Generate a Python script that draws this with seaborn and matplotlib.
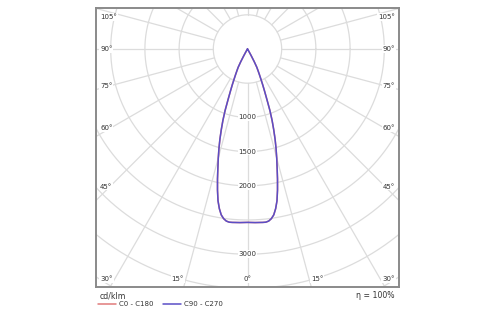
import numpy as np
import pandas as pd
import matplotlib
matplotlib.use("Agg")
import matplotlib.pyplot as plt
import seaborn as sns

# Luminous intensity distribution (cd/klm) against angle from nadir, symmetric
gamma_deg = [0, 2.5, 5, 6, 7, 8, 9, 10, 11, 12, 13, 14, 15, 16, 17, 18, 19, 20,
             21, 22, 23, 24, 25, 26, 27, 28, 29, 30, 32, 35, 40, 50, 90, 180]
intensity_c0_c180 = [2535, 2540, 2545, 2546, 2535, 2505, 2455, 2370, 2260, 2110,
                     1950, 1790, 1650, 1515, 1380, 1240, 1105, 960, 795, 670,
                     570, 480, 410, 350, 300, 210, 110, 45, 15, 6, 2, 0, 0, 0]
intensity_c90_c270 = [2535, 2540, 2545, 2546, 2535, 2505, 2455, 2370, 2260, 2110,
                      1950, 1790, 1650, 1515, 1380, 1240, 1105, 960, 795, 670,
                      570, 480, 410, 350, 300, 210, 110, 45, 15, 6, 2, 0, 0, 0]
curve_names = ["C0 - C180", "C90 - C270"]
curve_colors = ["#e07a7a", "#5a4ec6"]

ring_values = [500, 1000, 1500, 2000, 2500, 3000, 3500, 4000, 4500, 5000]
ring_labels = [1000, 1500, 2000, 3000]
spoke_angles = list(range(0, 360, 15))
angle_ticks = [0, 15, 30, 45, 60, 75, 90, 105]
unit_text = "cd/klm"
efficiency_text = "η = 100%"

sns.set_style("white")
plt.rcParams["font.family"] = ["DejaVu Sans"]

W, H = 500, 325
fig = plt.figure(figsize=(W / 100, H / 100), dpi=100)

# drawing box in pixels and the pole position
box_l, box_r, box_t, box_b = 96, 399, 7.5, 287
cx, cy = 247.5, 49
S = 500 / 34.2  # cd/klm per pixel

ax = fig.add_axes([box_l / W, (H - box_b) / H, (box_r - box_l) / W, (box_b - box_t) / H])
ax.set_xlim((box_l - cx) * S, (box_r - cx) * S)
ax.set_ylim(-(box_b - cy) * S, -(box_t - cy) * S)


def px_x(p):
    return (p - cx) * S


def px_y(p):
    return -(p - cy) * S


grid_kw = dict(color="#dcdcdc", lw=0.9, zorder=1)
t = np.linspace(0, 2 * np.pi, 400)
for r in ring_values:
    ax.plot(r * np.cos(t), r * np.sin(t), **grid_kw)
for a in spoke_angles:
    ar = np.radians(a)
    ax.plot([500 * np.sin(ar), 8000 * np.sin(ar)],
            [-500 * np.cos(ar), -8000 * np.cos(ar)], **grid_kw)


def polar_frame(intensity, name):
    g = np.radians(np.array(gamma_deg, dtype=float))
    i = np.array(intensity, dtype=float)
    g_full = np.concatenate([-g[::-1], g[1:]])
    i_full = np.concatenate([i[::-1], i[1:]])
    return pd.DataFrame({"x": i_full * np.sin(g_full),
                         "y": -i_full * np.cos(g_full),
                         "curve": name})


for inten, name, col in zip([intensity_c0_c180, intensity_c90_c270], curve_names, curve_colors):
    sns.lineplot(data=polar_frame(inten, name), x="x", y="y", sort=False,
                 estimator=None, color=col, lw=1.1, label=name, ax=ax, zorder=3)

txt_kw = dict(fontsize=5, color="#333333", zorder=4,
              bbox=dict(facecolor="white", edgecolor="none", pad=0.6))

for r in ring_labels:
    ax.text(0, -r, f"{r}", ha="center", va="center", **txt_kw)

# angle labels along the frame
side_x = 110
bottom_y = 279
for a in angle_ticks:
    ar = np.radians(a)
    if a <= 30:
        dy = bottom_y - cy
        dx = dy * np.tan(ar)
        if a == 0:
            ax.text(px_x(cx), px_y(bottom_y), f"{a}°", ha="center", va="center", **txt_kw)
        else:
            ax.text(px_x(cx - dx - 2), px_y(bottom_y), f"{a}°", ha="right", va="center", **txt_kw)
            ax.text(px_x(cx + dx + 2), px_y(bottom_y), f"{a}°", ha="left", va="center", **txt_kw)
    else:
        dx = cx - side_x
        yy = cy + dx / np.tan(ar)
        yy = max(yy, box_t + 9.5)
        ax.text(px_x(box_l + 4), px_y(yy), f"{a}°", ha="left", va="center", **txt_kw)
        ax.text(px_x(box_r - 4), px_y(yy), f"{a}°", ha="right", va="center", **txt_kw)

ax.set_xticks([])
ax.set_yticks([])
ax.set_xlabel("")
ax.set_ylabel("")
for sp in ax.spines.values():
    sp.set_color("#8a8a8a")
    sp.set_linewidth(1.4)

handles, labels = ax.get_legend_handles_labels()
ax.legend_.remove()
fig.legend(handles, labels, loc="center left", bbox_to_anchor=(98 / W, 1 - 304.5 / H),
           ncol=2, frameon=False, fontsize=5, handlelength=2.6, handletextpad=0.45,
           columnspacing=1.3, borderpad=0, borderaxespad=0, labelcolor="#333333")

fig.text(100 / W, 1 - 296 / H, unit_text, fontsize=5.6, color="#333333", ha="left", va="center")
fig.text(394 / W, 1 - 295 / H, efficiency_text, fontsize=5.6, color="#333333", ha="right", va="center")

fig.savefig("out.png", dpi=100)
